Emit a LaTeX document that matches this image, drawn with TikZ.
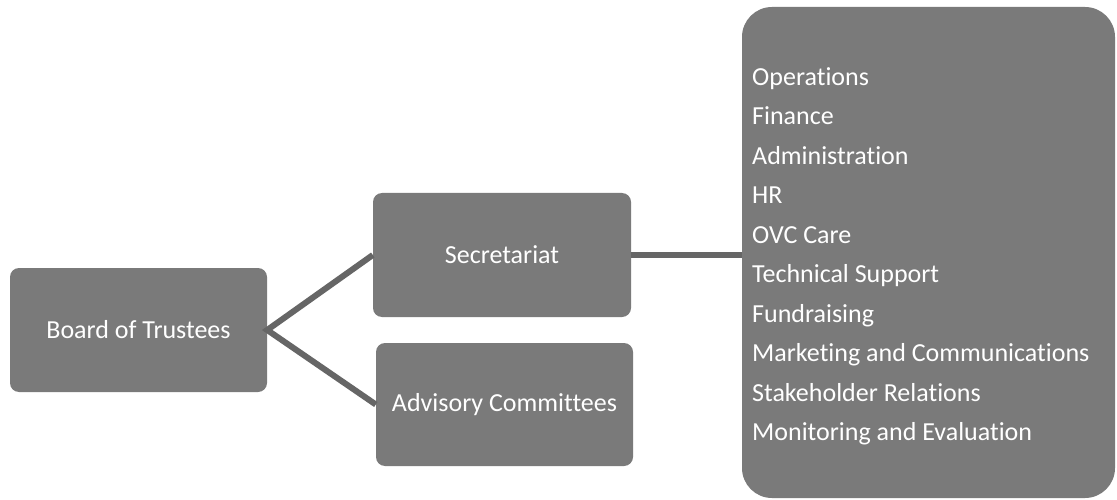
\documentclass[tikz,border=0pt]{standalone}
\usepackage{fontspec}
\setmainfont{Carlito}[Ligatures={NoCommon}]
\begin{document}
\begin{tikzpicture}[x=1pt,y=-1pt,
  box/.style={fill=boxgray, rounded corners=9pt, text=white, font=\fontsize{26}{30}\selectfont, inner sep=0pt},
  conn/.style={draw=linegray, line width=6pt}]
\definecolor{boxgray}{HTML}{7A7A7A}
\definecolor{linegray}{HTML}{666666}
\path[use as bounding box, fill=white] (0,0) rectangle (1117,500);
\node[box, minimum width=257pt, minimum height=124pt] (bot) at (138.5,330) {Board of Trustees};
\node[box, minimum width=258pt, minimum height=124pt] (sec) at (502,255) {Secretariat};
\node[box, minimum width=257pt, minimum height=123pt] (adv) at (504.5,404.5) {Advisory Committees};
\node[box, rounded corners=30pt, minimum width=373pt, minimum height=491pt] (dep) at (928.5,252.5) {};
\node[text=white, inner sep=0pt, anchor=west, align=left,
  font=\fontsize{26}{39.5}\selectfont] (deplist) at (752,256.5) {Operations\\Finance\\Administration\\HR\\OVC Care\\Technical Support\\Fundraising\\Marketing and Communications\\Stakeholder Relations\\Monitoring and Evaluation};
\draw[conn] (sec.west) -- (bot.east) -- (adv.west);
\draw[conn] (sec.east) -- (dep.west |- sec.east);
\end{tikzpicture}
\end{document}
